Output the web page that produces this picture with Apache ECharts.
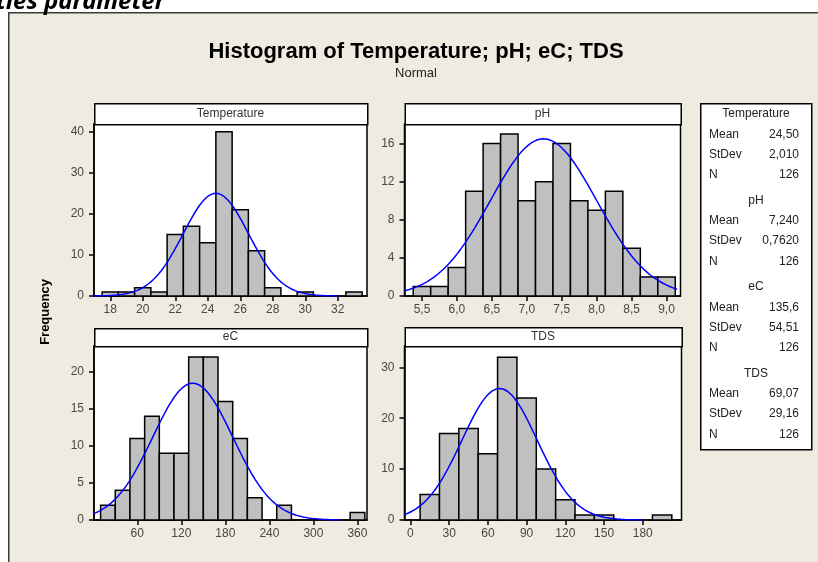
<!DOCTYPE html>
<html>
<head>
<meta charset="utf-8">
<script src="https://cdn.jsdelivr.net/npm/echarts@6.0.0/dist/echarts.min.js"></script>
<style>
  html, body { margin: 0; padding: 0; background: #fff; }
  #chart { width: 818px; height: 562px; }
</style>
</head>
<body>
<div id="chart"></div>
<script>
// histogram bins (centres) and counts
var tempBins = [18, 19, 20, 21, 22, 23, 24, 25, 26, 27, 28, 29, 30, 31, 32, 33];
var tempCounts = [1, 1, 2, 1, 15, 17, 13, 40, 21, 11, 2, 0, 1, 0, 0, 1];
var tempWidth = 1;

var phBins = [5.5, 5.75, 6.0, 6.25, 6.5, 6.75, 7.0, 7.25, 7.5, 7.75, 8.0, 8.25, 8.5, 8.75, 9.0];
var phCounts = [1, 1, 3, 11, 16, 17, 10, 12, 16, 10, 9, 11, 5, 2, 2];
var phWidth = 0.25;

var ecBins = [20, 40, 60, 80, 100, 120, 140, 160, 180, 200, 220, 240, 260, 280, 300, 320, 340, 360];
var ecCounts = [2, 4, 11, 14, 9, 9, 22, 22, 16, 11, 3, 0, 2, 0, 0, 0, 0, 1];
var ecWidth = 20;

var tdsBins = [15, 30, 45, 60, 75, 90, 105, 120, 135, 150, 165, 180, 195];
var tdsCounts = [5, 17, 18, 13, 32, 24, 10, 4, 1, 1, 0, 0, 1];
var tdsWidth = 15;

// tick labels
var tempTicksX = [18, 20, 22, 24, 26, 28, 30, 32];
var phTicksX = [5.5, 6.0, 6.5, 7.0, 7.5, 8.0, 8.5, 9.0];
var ecTicksX = [60, 120, 180, 240, 300, 360];
var tdsTicksX = [0, 30, 60, 90, 120, 150, 180];
var tempTicksY = [0, 10, 20, 30, 40];
var phTicksY = [0, 4, 8, 12, 16];
var ecTicksY = [0, 5, 10, 15, 20];
var tdsTicksY = [0, 10, 20, 30];

// summary statistics (legend box, also used for the normal fit)
var names = ['Temperature', 'pH', 'eC', 'TDS'];
var means = [24.50, 7.240, 135.6, 69.07];
var stdevs = [2.010, 0.7620, 54.51, 29.16];
var counts = [126, 126, 126, 126];
var meanDecimals = [2, 3, 1, 2];
var sdDecimals = [3, 4, 2, 2];

var chart = echarts.init(document.getElementById('chart'));

var panels = [
  {name: 'Temperature', bins: tempBins, counts: tempCounts, w: tempWidth, tx: tempTicksX, ty: tempTicksY,
   xmin: 17, xmax: 33.8, ymax: 41.9, curveTo: 32, dec: 0,
   left: 94, top: 124, width: 273, height: 172, headTop: 103},
  {name: 'pH', bins: phBins, counts: phCounts, w: phWidth, tx: phTicksX, ty: phTicksY,
   xmin: 5.25, xmax: 9.2, ymax: 18.05, curveTo: 9.15, dec: 1,
   left: 404.5, top: 124, width: 276, height: 172, headTop: 103},
  {name: 'eC', bins: ecBins, counts: ecCounts, w: ecWidth, tx: ecTicksX, ty: ecTicksY,
   xmin: 1, xmax: 373, ymax: 23.47, curveTo: 335, dec: 0,
   left: 94, top: 346, width: 273, height: 174, headTop: 328},
  {name: 'TDS', bins: tdsBins, counts: tdsCounts, w: tdsWidth, tx: tdsTicksX, ty: tdsTicksY,
   xmin: -4.6, xmax: 210, ymax: 34.2, curveTo: 180, dec: 0,
   left: 404.5, top: 346, width: 277, height: 174, headTop: 327}
];

var labelColor = '#4d4545';
var fontFam = '"Liberation Sans", Arial, sans-serif';

function fmt(v, d) {
  return v.toFixed(d).replace('.', ',');
}

// fitted normal curve, scaled to the histogram (N * bin width * pdf)
function normalCurve(i, p) {
  var pts = [];
  var steps = 120;
  for (var k = 0; k <= steps; k++) {
    var x = p.xmin + (p.curveTo - p.xmin) * k / steps;
    var z = (x - means[i]) / stdevs[i];
    var y = counts[i] * p.w / (stdevs[i] * Math.sqrt(2 * Math.PI)) * Math.exp(-0.5 * z * z);
    pts.push([x, y]);
  }
  return pts;
}

var grids = [], xAxes = [], yAxes = [], series = [], graphics = [];

// page background: white strip with a cut caption, beige frame
graphics.push({
  type: 'rect', left: 8, top: 12, z: -10,
  shape: {width: 830, height: 570},
  style: {fill: '#efebe1', stroke: '#3a3a3a', lineWidth: 1.5}
});
graphics.push({
  type: 'text', x: -4, y: 2, z: -5,
  style: {text: 'ties parameter', font: 'italic bold 24px "Noto Sans", sans-serif',
    fill: '#000', textAlign: 'left', textVerticalAlign: 'middle'}
});
graphics.push({
  type: 'text', x: 416, y: 52,
  style: {text: 'Histogram of Temperature; pH; eC; TDS', font: 'bold 22px ' + fontFam,
    fill: '#000', textAlign: 'center', textVerticalAlign: 'middle'}
});
graphics.push({
  type: 'text', x: 416, y: 73,
  style: {text: 'Normal', font: '13px ' + fontFam, fill: '#222',
    textAlign: 'center', textVerticalAlign: 'middle'}
});
graphics.push({
  type: 'text', x: 45, y: 312, rotation: Math.PI / 2,
  style: {text: 'Frequency', font: 'bold 13px ' + fontFam, fill: '#000',
    textAlign: 'center', textVerticalAlign: 'middle'}
});

panels.forEach(function (p, i) {
  grids.push({
    left: p.left, top: p.top, width: p.width, height: p.height,
    show: true, backgroundColor: '#fff', borderColor: '#000', borderWidth: 1.5,
    containLabel: false, outerBoundsMode: 'none'
  });
  xAxes.push({
    gridIndex: i, type: 'value', min: p.xmin, max: p.xmax,
    axisLine: {show: true, onZero: false, lineStyle: {color: '#000', width: 1.5}},
    axisTick: {show: true, length: 5, customValues: p.tx, lineStyle: {color: '#000', width: 1.5}},
    axisLabel: {customValues: p.tx, color: labelColor, fontSize: 12, fontFamily: fontFam, margin: 8,
      formatter: function (v) { return fmt(v, p.dec); }},
    splitLine: {show: false}
  });
  yAxes.push({
    gridIndex: i, type: 'value', min: 0, max: p.ymax,
    axisLine: {show: true, onZero: false, lineStyle: {color: '#000', width: 1.5}},
    axisTick: {show: true, length: 5, customValues: p.ty, lineStyle: {color: '#000', width: 1.5}},
    axisLabel: {customValues: p.ty, color: labelColor, fontSize: 12, fontFamily: fontFam, margin: 10},
    splitLine: {show: false}
  });

  var bars = [];
  p.bins.forEach(function (c, j) {
    if (p.counts[j] > 0) bars.push([c - p.w / 2, c + p.w / 2, p.counts[j]]);
  });
  series.push({
    type: 'custom', xAxisIndex: i, yAxisIndex: i, z: 2,
    encode: {x: [0, 1], y: 2},
    renderItem: function (params, api) {
      var a = api.coord([api.value(0), api.value(2)]);
      var b = api.coord([api.value(1), 0]);
      return {
        type: 'rect',
        shape: {x: a[0], y: a[1], width: b[0] - a[0], height: b[1] - a[1]},
        style: {fill: '#c0c0c0', stroke: '#000', lineWidth: 1.5}
      };
    },
    data: bars
  });
  series.push({
    type: 'line', xAxisIndex: i, yAxisIndex: i, z: 3,
    showSymbol: false, smooth: false, silent: true,
    lineStyle: {color: '#0000ff', width: 1.5},
    data: normalCurve(i, p)
  });

  // header strip above each panel
  graphics.push({
    type: 'rect', left: p.left, top: p.headTop, z: 5,
    shape: {width: p.width, height: p.top - p.headTop},
    style: {fill: '#fff', stroke: '#000', lineWidth: 1.5}
  });
  graphics.push({
    type: 'text', x: p.left + p.width / 2, y: (p.headTop + p.top) / 2, z: 6,
    style: {text: p.name, font: '12px ' + fontFam, fill: '#333',
      textAlign: 'center', textVerticalAlign: 'middle'}
  });
});

// legend box with the statistics
graphics.push({
  type: 'rect', left: 700, top: 103, z: 5,
  shape: {width: 111, height: 346},
  style: {fill: '#fff', stroke: '#000', lineWidth: 1.5}
});
names.forEach(function (n, i) {
  var y0 = 114 + i * 86.5;
  var rows = [
    ['Mean', fmt(means[i], meanDecimals[i])],
    ['StDev', fmt(stdevs[i], sdDecimals[i])],
    ['N', String(counts[i])]
  ];
  graphics.push({
    type: 'text', x: 756, y: y0, z: 6,
    style: {text: n, font: '12px ' + fontFam, fill: '#222', textAlign: 'center', textVerticalAlign: 'middle'}
  });
  var offs = [20.5, 40.5, 61];
  rows.forEach(function (r, k) {
    graphics.push({
      type: 'text', x: 709, y: y0 + offs[k], z: 6,
      style: {text: r[0], font: '12px ' + fontFam, fill: '#222', textAlign: 'left', textVerticalAlign: 'middle'}
    });
    graphics.push({
      type: 'text', x: 799, y: y0 + offs[k], z: 6,
      style: {text: r[1], font: '12px ' + fontFam, fill: '#222', textAlign: 'right', textVerticalAlign: 'middle'}
    });
  });
});

chart.setOption({
  backgroundColor: '#fff',
  animation: false,
  grid: grids,
  xAxis: xAxes,
  yAxis: yAxes,
  series: series,
  graphic: {elements: graphics}
});
</script>
</body>
</html>
